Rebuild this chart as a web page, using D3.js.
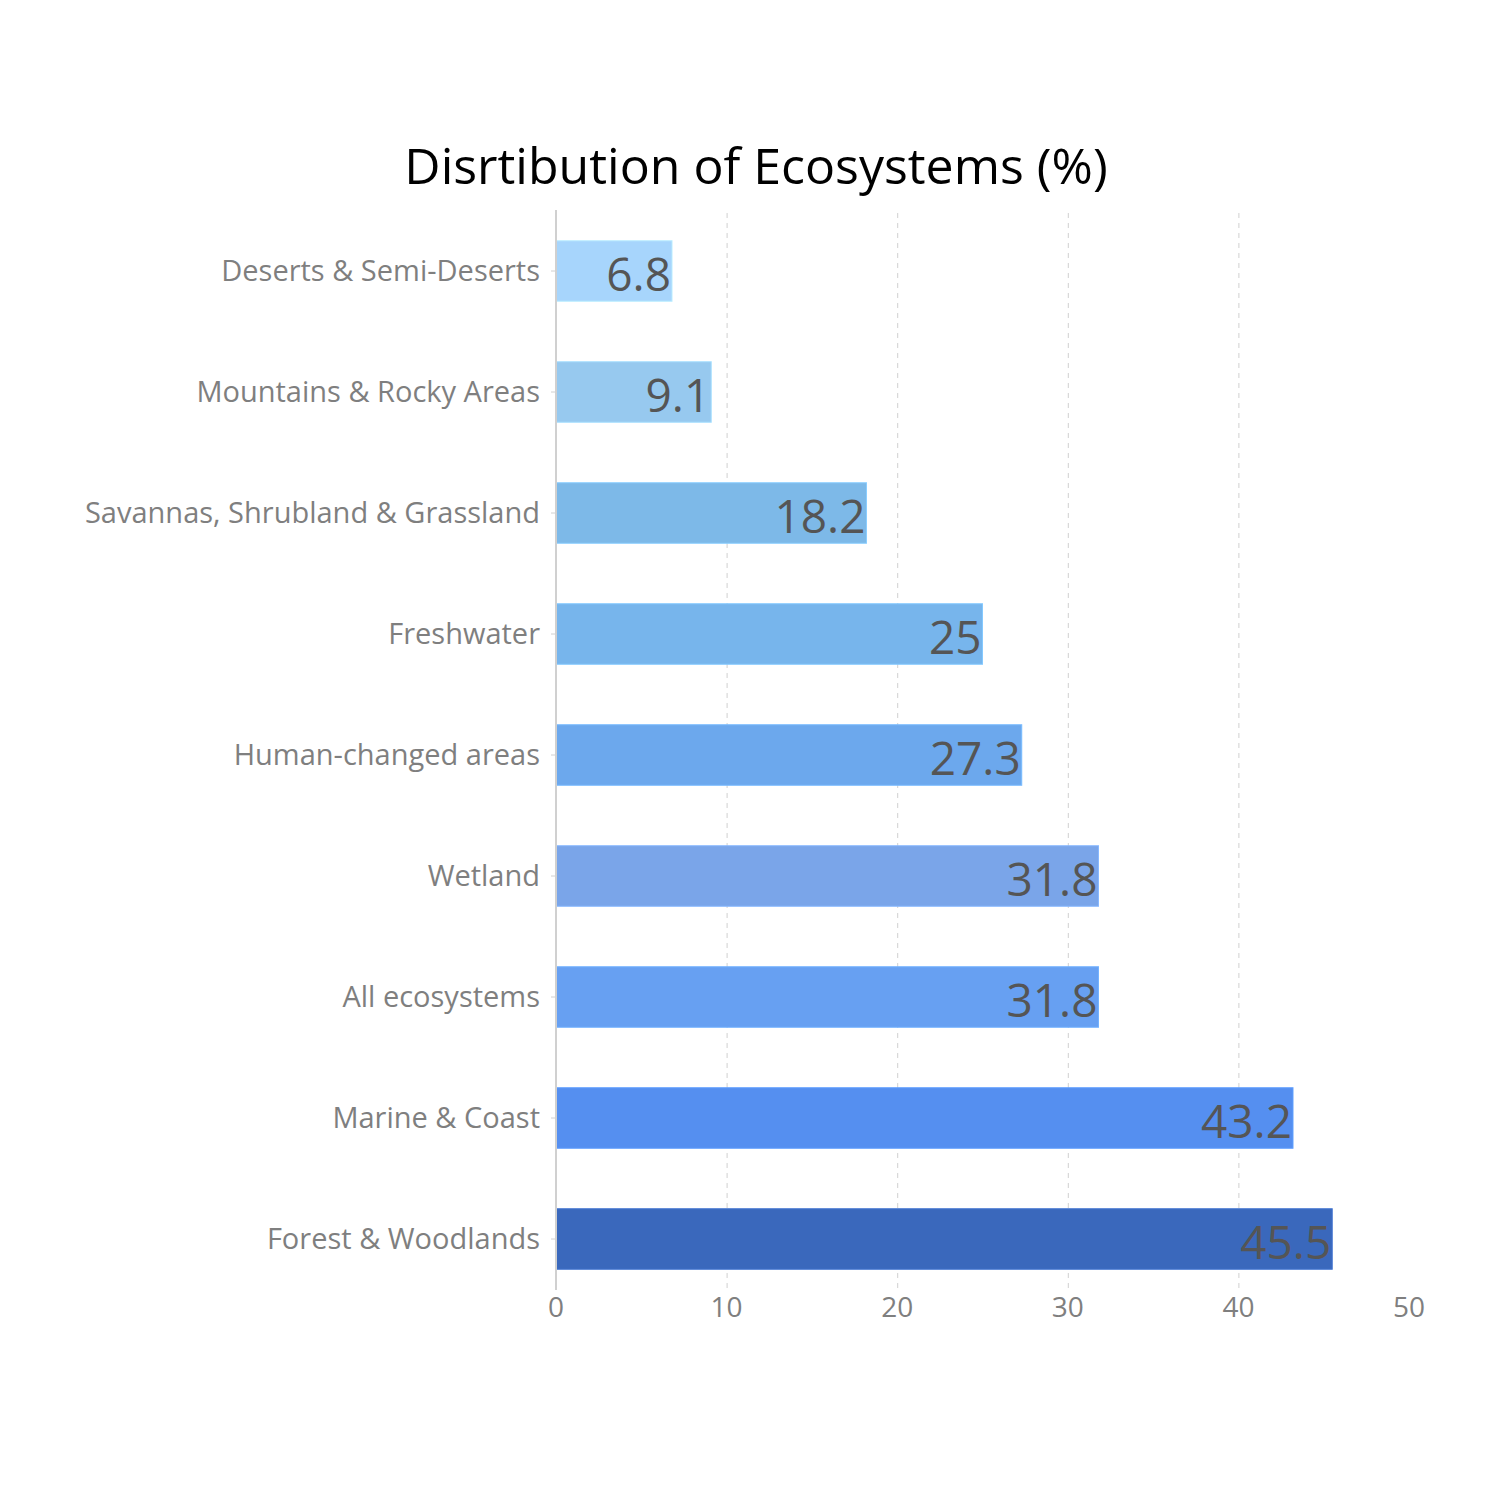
<!DOCTYPE html>
<html>
<head>
<meta charset="utf-8">
<script src="https://cdn.jsdelivr.net/npm/d3@7"></script>
<style>
  body { margin: 0; background: #fff; }
  svg { display: block; }
</style>
</head>
<body>
<svg id="chart" width="1500" height="1500"></svg>
<script>
// chart data, top to bottom
var categories = [
  'Deserts & Semi-Deserts',
  'Mountains & Rocky Areas',
  'Savannas, Shrubland & Grassland',
  'Freshwater',
  'Human-changed areas',
  'Wetland',
  'All ecosystems',
  'Marine & Coast',
  'Forest & Woodlands'
];
var values = [6.8, 9.1, 18.2, 25, 27.3, 31.8, 31.8, 43.2, 45.5];
var barColors = ['#a7d5fc', '#97c9ef', '#7db9e8', '#77b5ec', '#6ca8ed', '#7aa5e9', '#67a0f2', '#558ff0', '#3a68bc'];
var xTicks = [0, 10, 20, 30, 40, 50];
var title = 'Disrtibution of Ecosystems (%)';

var svg = d3.select('#chart');
// note: "top" is taken by window.top, so plot edges get their own names
var plotLeft = 556, plotRight = 1409, plotTop = 210.5, plotBottom = 1299.5;

var x = d3.scaleLinear().domain([0, 50]).range([plotLeft, plotRight]);
var y = d3.scaleBand().domain(categories).range([plotTop, plotBottom])
  .paddingInner(0.5).paddingOuter(0.25);

// dashed vertical grid lines
svg.append('g')
  .selectAll('line')
  .data(xTicks.filter(function(d) { return d > 0 && d < 50; }))
  .join('line')
  .attr('x1', function(d) { return x(d) + 0.5; })
  .attr('x2', function(d) { return x(d) + 0.5; })
  .attr('y1', 213)
  .attr('y2', 1290)
  .attr('stroke', '#d0d0d0')
  .attr('stroke-width', 1)
  .attr('stroke-dasharray', '5,5');

// bars
svg.append('g')
  .selectAll('rect')
  .data(values)
  .join('rect')
  .attr('x', x(0))
  .attr('y', function(d, i) { return y(categories[i]); })
  .attr('width', function(d) { return x(d) - x(0); })
  .attr('height', y.bandwidth())
  .attr('fill', function(d, i) { return barColors[i]; })
  .attr('stroke', function(d, i) { return d3.color(barColors[i]).brighter(0.3); })
  .attr('stroke-width', 1);

// value labels at the end of each bar
svg.append('g')
  .selectAll('text')
  .data(values)
  .join('text')
  .attr('x', function(d) { return x(d) - 1; })
  .attr('y', function(d, i) { return y(categories[i]) + y.bandwidth() / 2 + 20; })
  .attr('text-anchor', 'end')
  .attr('font-family', '"Open Sans", sans-serif')
  .attr('font-size', 46)
  .attr('fill', '#555555')
  .text(function(d) { return d; });

// y axis: line, small ticks, category labels
var yAxis = svg.append('g');
yAxis.append('line')
  .attr('x1', plotLeft).attr('x2', plotLeft)
  .attr('y1', 210).attr('y2', 1290)
  .attr('stroke', '#d0d0d0')
  .attr('stroke-width', 2);
yAxis.selectAll('.tick')
  .data(categories)
  .join('line')
  .attr('class', 'tick')
  .attr('x1', plotLeft - 5).attr('x2', plotLeft)
  .attr('y1', function(d) { return y(d) + y.bandwidth() / 2; })
  .attr('y2', function(d) { return y(d) + y.bandwidth() / 2; })
  .attr('stroke', '#d0d0d0');
yAxis.selectAll('text.label')
  .data(categories)
  .join('text')
  .attr('class', 'label')
  .attr('x', 540)
  .attr('y', function(d) { return y(d) + y.bandwidth() / 2; })
  .attr('dy', '0.36em')
  .attr('text-anchor', 'end')
  .attr('font-family', '"Open Sans", sans-serif')
  .attr('font-size', 29)
  .attr('fill', '#7f7f7f')
  .text(function(d) { return d; });

// x axis tick labels
svg.append('g')
  .selectAll('text')
  .data(xTicks)
  .join('text')
  .attr('x', function(d) { return x(d); })
  .attr('y', 1307)
  .attr('dy', '0.36em')
  .attr('text-anchor', 'middle')
  .attr('font-family', '"Open Sans", sans-serif')
  .attr('font-size', 28)
  .attr('fill', '#7f7f7f')
  .text(function(d) { return d; });

// title
svg.append('text')
  .attr('x', 756)
  .attr('y', 184)
  .attr('text-anchor', 'middle')
  .attr('font-family', '"Open Sans", sans-serif')
  .attr('font-size', 50)
  .attr('fill', '#000')
  .text(title);
</script>
</body>
</html>
